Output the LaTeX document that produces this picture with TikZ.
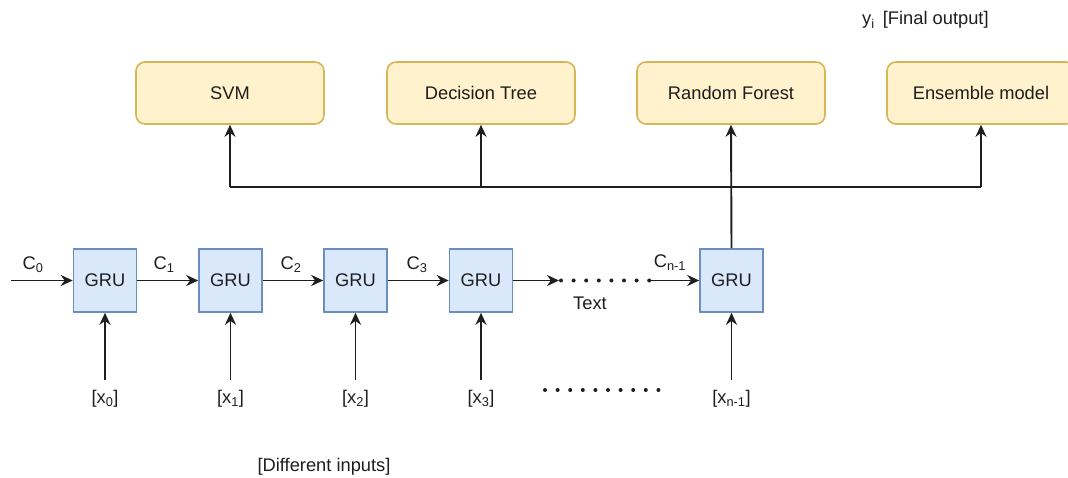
\documentclass[tikz,border=0pt]{standalone}
\usepackage{fontspec}
\setmainfont{Liberation Sans}
\usetikzlibrary{arrows.meta}
\definecolor{clsfill}{HTML}{FFF2CC}
\definecolor{clsdraw}{HTML}{D6B656}
\definecolor{grufill}{HTML}{DAE8FC}
\definecolor{grudraw}{HTML}{6C8EBF}
\definecolor{ink}{HTML}{1E1E1E}
\begin{document}
\begin{tikzpicture}[x=1pt,y=-1pt,
  every node/.style={font=\fontsize{18.3}{21}\selectfont, text=ink},
  clsbox/.style={draw=clsdraw, fill=clsfill, line width=1.6pt, rounded corners=9pt,
    minimum width=188pt, minimum height=62pt, inner sep=0pt},
  grubox/.style={draw=grudraw, fill=grufill, line width=1.6pt,
    minimum width=63pt, minimum height=63pt, inner sep=0pt},
  link/.style={draw=ink, line width=1.9pt, -{Stealth[length=12pt,width=11pt]}},
  plain/.style={draw=ink, line width=1.9pt},
  dots/.style={draw=ink, line width=4pt, line cap=round, dash pattern=on 0pt off 12.6pt},
  lbl/.style={inner sep=0pt}
]
\useasboundingbox (0,0) rectangle (1068,478);

% classifier boxes
\node[clsbox] (svm) at (230,93) {SVM};
\node[clsbox] (dt)  at (481,93) {Decision Tree};
\node[clsbox] (rf)  at (731,93) {Random Forest};
\node[clsbox] (ens) at (981,93) {Ensemble model};

\node[lbl, anchor=west] (yout) at (862,20) {y\textsubscript{i}\, [Final output]};

% GRU chain
\node[grubox] (g0) at (105,280.5) {GRU};
\node[grubox] (g1) at (230.5,280.5) {GRU};
\node[grubox] (g2) at (355.5,280.5) {GRU};
\node[grubox] (g3) at (481,280.5) {GRU};
\node[grubox] (g4) at (731.5,280.5) {GRU};

% inputs
\node[lbl] (x0) at (105,399) {[x\textsubscript{0}]};
\node[lbl] (x1) at (230.5,399) {[x\textsubscript{1}]};
\node[lbl] (x2) at (355.5,399) {[x\textsubscript{2}]};
\node[lbl] (x3) at (481,399) {[x\textsubscript{3}]};
\node[lbl] (xn) at (731.5,399) {[x\textsubscript{n-1}]};
\node[lbl] (diff) at (324,467) {[Different inputs]};

\foreach \g/\x in {g0/x0,g1/x1,g2/x2,g3/x3,g4/xn}
  \draw[link, shorten <=10pt] (\x.north) -- (\g.south);

% hidden state labels
\node[lbl] (c0) at (33,265) {C\textsubscript{0}};
\node[lbl] (c1) at (164,265) {C\textsubscript{1}};
\node[lbl] (c2) at (291,265) {C\textsubscript{2}};
\node[lbl] (c3) at (417,265) {C\textsubscript{3}};
\node[lbl] (cn) at (670,263) {C\textsubscript{n-1}};
\node[lbl] (txt) at (590,303) {Text};

% chain connectors
\coordinate (start) at (11,280.5);
\coordinate (gapa) at (559,280.5);
\coordinate (gapb) at (650,280.5);
\draw[link] (start) -- (g0.west);
\draw[link] (g0) -- (g1);
\draw[link] (g1) -- (g2);
\draw[link] (g2) -- (g3);
\draw[link] (g3.east) -- (gapa);
\draw[dots] ([xshift=2pt]gapa) -- (gapb);
\draw[link] (gapb) -- (g4.west);

% row of dots among the inputs
\coordinate (da) at (545,390);
\coordinate (db) at (659,390);
\draw[dots] (da) -- (db);

% output bus
\coordinate (bus) at (731.5,187);
\draw[link] (g4.north) -- (rf.south);
\draw[plain] (svm.south |- bus) -- (ens.south |- bus);
\draw[link] (svm.south |- bus) -- (svm.south);
\draw[link] (dt.south |- bus) -- (dt.south);
\draw[link] (ens.south |- bus) -- (ens.south);
\end{tikzpicture}
\end{document}
